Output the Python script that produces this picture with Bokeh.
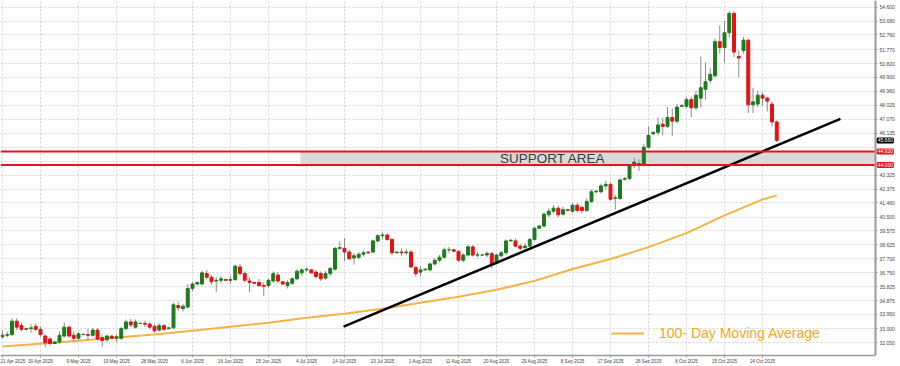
from bokeh.plotting import figure
from bokeh.models import (Range1d, FixedTicker, BoxAnnotation, Label, Legend,
                          LegendItem, ColumnDataSource, NumeralTickFormatter)
from bokeh.embed import file_html
from bokeh.resources import INLINE

# ---------------- data (bar index = trading bar, incl. Sunday bars) ----------------
x_tick_labels = ["21 Apr 2025", "30 Apr 2025", "9 May 2025", "19 May 2025", "28 May 2025",
                 "6 Jun 2025", "16 Jun 2025", "25 Jun 2025", "4 Jul 2025", "14 Jul 2025",
                 "23 Jul 2025", "1 Aug 2025", "11 Aug 2025", "20 Aug 2025", "29 Aug 2025",
                 "8 Sep 2025", "17 Sep 2025", "26 Sep 2025", "6 Oct 2025", "15 Oct 2025",
                 "24 Oct 2025"]
bars_per_label = 8

opens = [
    32.45, 32.55, 32.60, 33.50, 33.20, 32.95, 33.00, 33.15, 32.95, 32.50,
    32.30, 32.00, 32.10, 32.50, 33.10, 32.55, 32.35, 32.60, 32.60, 32.55,
    32.90, 32.40, 32.25, 32.50, 32.35, 32.35, 33.00, 33.45, 33.10, 33.35,
    33.35, 33.30, 33.15, 32.90, 33.20, 33.00, 33.05, 34.55, 34.35, 34.45,
    35.70, 36.00, 36.00, 36.70, 36.45, 36.20, 36.25, 36.30, 36.25, 36.30,
    37.15, 36.70, 36.20, 36.10, 36.10, 35.90, 35.90, 36.20, 36.60, 36.15,
    35.90, 36.05, 36.35, 36.75, 36.95, 36.95, 36.80, 36.70, 36.40, 36.70,
    37.00, 38.40, 38.40, 38.15, 37.75, 37.80, 38.00, 38.15, 38.15, 38.90,
    39.25, 39.30, 39.00, 38.10, 38.15, 38.10, 38.15, 37.10, 36.80, 36.95,
    36.95, 37.35, 37.60, 37.80, 38.30, 38.30, 38.20, 37.60, 37.95, 38.50,
    37.95, 37.95, 37.95, 38.05, 37.40, 37.90, 38.10, 38.90, 38.90, 38.55,
    38.45, 38.55, 39.00, 39.75, 39.90, 40.65, 40.90, 41.10, 40.70, 41.00,
    40.90, 41.30, 41.15, 40.95, 41.55, 42.20, 42.20, 42.60, 42.70, 41.75,
    41.75, 43.05, 43.10, 44.00, 44.10, 44.00, 45.20, 46.10, 46.20, 46.75,
    46.60, 47.20, 46.95, 47.95, 47.95, 48.40, 47.85, 48.50, 49.10, 49.70,
    50.00, 52.30, 51.90, 52.90, 54.20, 51.30, 51.70, 52.40, 48.05, 48.10,
    48.70, 48.50, 48.10, 46.90]
highs = [
    32.90, 32.80, 33.70, 33.70, 33.40, 33.05, 33.30, 33.35, 33.10, 32.60,
    32.45, 32.15, 32.80, 33.40, 33.20, 32.80, 32.75, 32.70, 33.00, 33.05,
    33.05, 32.55, 32.60, 32.55, 32.60, 33.10, 33.60, 33.65, 33.60, 33.40,
    33.55, 33.45, 33.30, 33.35, 33.30, 33.10, 34.75, 34.80, 34.65, 36.00,
    36.15, 36.15, 36.90, 36.95, 36.60, 36.45, 36.55, 36.35, 36.55, 37.30,
    37.35, 36.85, 36.45, 36.15, 36.35, 36.10, 36.35, 36.85, 36.80, 36.20,
    36.25, 36.45, 37.00, 37.05, 37.10, 37.00, 36.95, 36.85, 36.85, 37.15,
    38.50, 38.90, 39.10, 38.30, 38.10, 38.15, 38.25, 38.20, 39.00, 39.35,
    39.50, 39.40, 39.10, 38.20, 38.40, 38.35, 38.30, 37.20, 37.20, 37.05,
    37.45, 37.75, 37.95, 38.45, 38.50, 38.35, 38.25, 38.05, 38.65, 38.60,
    38.15, 38.00, 38.20, 38.15, 38.05, 38.25, 39.00, 39.00, 39.05, 38.70,
    38.75, 39.10, 39.85, 39.95, 40.80, 41.10, 41.30, 41.25, 41.20, 41.05,
    41.45, 41.45, 41.30, 41.75, 42.35, 42.30, 42.75, 42.95, 42.85, 42.00,
    43.10, 43.20, 44.05, 44.50, 44.40, 45.40, 46.60, 46.30, 47.20, 47.20,
    47.90, 47.80, 48.10, 48.10, 48.60, 48.60, 49.00, 51.30, 50.90, 50.50,
    52.50, 53.40, 53.70, 54.35, 54.35, 51.70, 52.60, 52.50, 49.20, 49.00,
    48.90, 48.60, 48.30, 47.00]
lows = [
    32.30, 32.40, 32.50, 32.90, 32.80, 32.90, 32.70, 32.85, 32.45, 31.75,
    31.85, 31.95, 31.95, 32.40, 32.40, 32.10, 32.20, 32.55, 32.20, 32.45,
    32.20, 31.80, 32.10, 32.30, 32.10, 32.25, 32.90, 33.10, 33.00, 33.30,
    33.10, 32.95, 32.70, 32.80, 32.85, 32.95, 33.00, 34.20, 34.15, 34.40,
    35.50, 35.95, 35.90, 36.30, 35.95, 35.45, 36.05, 36.20, 36.00, 36.20,
    36.55, 36.10, 35.45, 36.00, 35.80, 35.20, 35.75, 36.10, 36.05, 35.95,
    35.70, 35.95, 36.25, 36.55, 36.80, 36.70, 36.35, 36.20, 36.30, 36.55,
    36.90, 38.30, 37.55, 37.60, 37.30, 37.65, 37.85, 38.05, 38.05, 38.80,
    39.00, 38.90, 37.95, 38.05, 37.90, 37.95, 37.05, 36.50, 36.50, 36.90,
    36.85, 37.25, 37.45, 37.70, 38.10, 38.15, 37.50, 37.45, 37.85, 37.85,
    37.80, 37.90, 37.80, 37.05, 37.30, 37.80, 38.00, 38.85, 38.45, 38.25,
    38.30, 38.45, 38.90, 39.70, 39.80, 40.50, 40.75, 40.50, 40.60, 40.90,
    40.80, 40.80, 40.75, 40.85, 41.45, 42.10, 42.10, 42.40, 41.60, 41.00,
    41.65, 42.95, 43.00, 43.80, 43.60, 43.90, 45.10, 46.00, 46.00, 46.00,
    46.50, 45.95, 46.80, 47.90, 47.80, 47.20, 47.70, 47.90, 48.40, 49.50,
    49.90, 51.50, 50.90, 52.60, 51.25, 49.90, 51.50, 47.50, 47.50, 47.90,
    48.00, 47.60, 46.60, 45.55]
closes = [
    32.55, 32.60, 33.50, 33.10, 32.95, 33.00, 33.05, 32.95, 32.60, 32.05,
    32.00, 32.10, 32.55, 33.10, 32.50, 32.35, 32.65, 32.60, 32.55, 32.90,
    32.30, 32.20, 32.50, 32.35, 32.45, 33.00, 33.45, 33.25, 33.45, 33.35,
    33.30, 33.10, 32.85, 33.20, 32.95, 33.05, 34.60, 34.40, 34.50, 35.70,
    36.00, 36.10, 36.75, 36.45, 36.15, 36.25, 36.35, 36.25, 36.30, 37.20,
    36.70, 36.25, 36.10, 36.05, 35.90, 35.85, 36.25, 36.70, 36.20, 36.00,
    36.10, 36.35, 36.85, 36.95, 37.00, 36.75, 36.50, 36.35, 36.70, 37.05,
    38.40, 38.45, 38.15, 37.70, 37.90, 38.00, 38.10, 38.10, 38.90, 39.25,
    39.30, 39.00, 38.10, 38.15, 38.10, 38.15, 37.15, 36.70, 36.95, 37.00,
    37.35, 37.60, 37.80, 38.30, 38.30, 38.20, 37.60, 37.95, 38.50, 37.95,
    37.95, 37.95, 38.05, 37.35, 37.95, 38.10, 38.90, 38.95, 38.55, 38.40,
    38.55, 39.00, 39.75, 39.90, 40.70, 40.90, 41.10, 40.65, 41.00, 40.95,
    41.30, 40.95, 40.95, 41.55, 42.20, 42.25, 42.60, 42.70, 41.70, 41.80,
    43.00, 43.10, 43.95, 44.20, 44.00, 45.20, 46.00, 46.20, 46.70, 46.60,
    47.20, 46.95, 47.90, 48.00, 48.40, 47.85, 48.70, 49.20, 49.60, 50.10,
    52.30, 51.90, 52.90, 54.20, 51.60, 51.20, 52.40, 48.05, 48.25, 48.70,
    48.50, 48.30, 46.90, 45.66]

# 100-day moving average, read at every 8th bar (and the last bar)
ma_bar = [0, 8, 16, 24, 32, 40, 48, 56, 64, 72, 80, 88, 96, 104, 112, 120,
          128, 136, 144, 152, 160, 163]
ma_val = [31.79, 31.99, 32.19, 32.40, 32.60, 32.86, 33.13, 33.40, 33.73, 34.00,
          34.34, 34.74, 35.14, 35.61, 36.21, 37.01, 37.68, 38.48, 39.42, 40.62,
          41.69, 41.96]

# price-axis labels
y_ticks = [54.600, 53.680, 52.760, 51.770, 50.820, 49.900, 48.960, 48.025, 47.070,
           46.135, 45.195, 44.260, 43.325, 42.375, 41.460, 40.500, 39.575, 38.625,
           37.700, 36.750, 35.825, 34.875, 33.950, 33.000, 32.050, 31.125]
hidden_y_ticks = [45.195, 44.260]

# drawn analysis objects
support_top = 44.92
support_bottom = 44.00
support_start_bar = 62.7
trend_bar = [71.8, 176.4]
trend_price = [33.13, 47.11]

# ---------------- layout constants ----------------
X_START = -0.42          # left edge of the view (bar units)
X_END = 189.05           # right edge of the canvas (bar units)
AXIS_X = 183.79          # where the price scale sits (bar units)
Y_START, Y_END = 31.192, 55.068

p = figure(width=900, height=366, output_backend="svg", toolbar_location=None,
           x_range=Range1d(X_START, X_END), y_range=Range1d(Y_START, Y_END),
           y_axis_location="right",
           min_border_left=0, min_border_right=0, min_border_top=0, min_border_bottom=9)
p.outline_line_color = None
p.background_fill_color = "white"
p.border_fill_color = "white"

n = len(closes)
GREEN = "#1f7a1f"
RED = "#e01414"
colors = [GREEN if c >= o else RED for o, c in zip(opens, closes)]
src = ColumnDataSource(dict(
    x=list(range(n)), o=opens, h=highs, l=lows, c=closes,
    top=[max(o, c) for o, c in zip(opens, closes)],
    bottom=[min(o, c) for o, c in zip(opens, closes)],
    color=colors))

# grid
grid_ticks = [i * bars_per_label for i in range(len(x_tick_labels))]
p.xgrid.ticker = FixedTicker(ticks=grid_ticks)
p.ygrid.ticker = FixedTicker(ticks=y_ticks)
for g in (p.xgrid, p.ygrid):
    g.grid_line_color = "#d4d4d4"
    g.grid_line_dash = "2 2"
    g.grid_line_width = 1

# blank the strip to the right of the price scale (grid must stop at the scale)
p.add_layout(BoxAnnotation(left=AXIS_X, fill_color="white", fill_alpha=1.0,
                           line_color=None, level="underlay"))

# support area
p.add_layout(BoxAnnotation(bottom=support_bottom, top=support_top, left=support_start_bar,
                           right=AXIS_X, fill_color="#d9d9d9", fill_alpha=1.0,
                           line_color=None, level="underlay"))

# moving average
ma_r = p.line(ma_bar, ma_val, line_color="#f7b244", line_width=2)

# candles
p.segment(x0="x", y0="h", x1="x", y1="l", source=src, line_color="#8c8c8c", line_width=1)
p.vbar(x="x", width=0.62, top="top", bottom="bottom", source=src,
       fill_color="color", line_color="color", line_width=1)

# trend line
p.line(trend_bar, trend_price, line_color="black", line_width=2.5)

# support lines (stop at the price scale)
p.segment(x0=[X_START, X_START], x1=[AXIS_X, AXIS_X],
          y0=[support_top, support_bottom], y1=[support_top, support_bottom],
          line_color="#e8141c", line_width=2)

p.add_layout(Label(x=(support_start_bar + 169) / 2, y=(support_top + support_bottom) / 2,
                   text="SUPPORT AREA", text_align="center", text_baseline="middle",
                   text_font="Liberation Sans", text_font_size="13.5px", text_color="#3c3c3c"))

# axes
xa = p.xaxis[0]
xa.ticker = FixedTicker(ticks=grid_ticks)
xa.bounds = (X_START, AXIS_X)
xa.major_label_overrides = {t: lbl for t, lbl in zip(grid_ticks, x_tick_labels)}
xa.major_label_text_align = "left"
xa.major_label_text_font_size = "4.6px"
xa.major_label_text_color = "#444444"
xa.major_label_standoff = 1
xa.axis_line_color = "#9a9a9a"
xa.axis_line_width = 1.5
xa.major_tick_line_color = "#9a9a9a"
xa.major_tick_out = 2
xa.major_tick_in = 0
xa.minor_tick_line_color = None

ya = p.yaxis[0]
ya.fixed_location = AXIS_X
ya.ticker = FixedTicker(ticks=[v for v in y_ticks if v not in hidden_y_ticks])
ya.formatter = NumeralTickFormatter(format="0.000")
ya.major_label_text_font_size = "5px"
ya.major_label_text_color = "#444444"
ya.major_label_standoff = 2
ya.axis_line_color = "#9a9a9a"
ya.axis_line_width = 2
ya.major_tick_line_color = "#9a9a9a"
ya.major_tick_out = 2
ya.major_tick_in = 0
ya.minor_tick_line_color = None

# price tags on the price scale
tag_x = AXIS_X + 0.45
for val, bg in ((closes[-1], "black"), (support_top, "#e8141c"), (support_bottom, "#e8141c")):
    p.add_layout(Label(x=tag_x, y=val, text=f"{val:.3f}", text_align="left",
                       text_baseline="middle", text_font_size="5px", text_color="white",
                       background_fill_color=bg, background_fill_alpha=1.0,
                       border_line_color=bg, border_line_width=2))

# legend
legend = Legend(items=[LegendItem(label="100- Day Moving Average", renderers=[ma_r])],
                location=(611, 14), orientation="vertical",
                background_fill_alpha=0, border_line_alpha=0,
                label_text_color="#f5a623", label_text_font="Liberation Sans",
                label_text_font_size="14px", glyph_width=33, glyph_height=14,
                label_height=14, label_standoff=15, padding=0, margin=0, spacing=0)
p.add_layout(legend)

open("out.html", "w").write(file_html(p, INLINE))
